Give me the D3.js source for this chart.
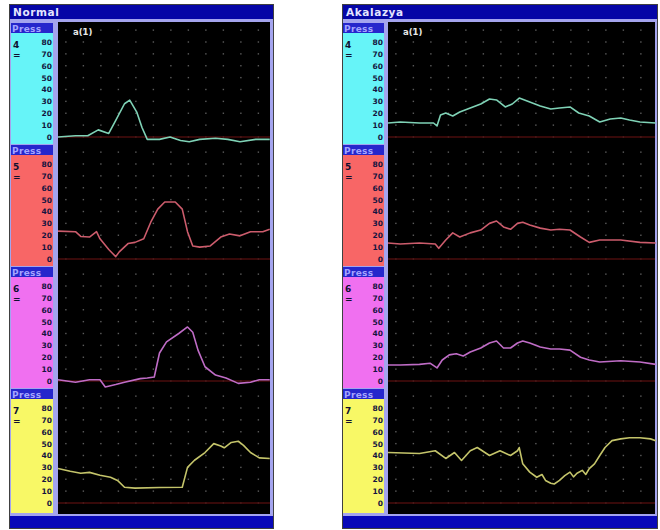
<!DOCTYPE html>
<html>
<head>
<meta charset="utf-8">
<script src="https://cdn.jsdelivr.net/npm/d3@7"></script>
<style>
  body { margin: 0; background: #ffffff; }
  svg { display: block; }
  text { font-family: "DejaVu Sans", sans-serif; font-weight: bold; }
</style>
</head>
<body>
<svg id="chart" width="660" height="530"></svg>
<script>
// channel names and pressure ticks (mmHg)
const channels = ["4", "5", "6", "7"];
const pressureTicks = [0, 10, 20, 30, 40, 50, 60, 70, 80];
const panelTitles = ["Normal", "Akalazya"];

// traces: [time (s), pressure (mmHg)]
const normalCh4 = [[0,0],[1,1],[1.7,1],[2.3,6],[2.9,3],[3.3,14],[3.8,28],[4.1,31],[4.5,21],[4.8,8],[5.1,-2],[5.8,-2],[6.4,0],[7,-3],[7.5,-4],[8.1,-2],[9,-1],[9.7,-2],[10.4,-4],[11.3,-2],[12.1,-2]];
const normalCh5 = [[0,23.5],[1,23],[1.3,19],[1.8,18.5],[2.2,23],[2.4,17],[2.9,8],[3.3,2],[3.5,6],[4,13],[4.4,14],[4.9,17],[5.3,31],[5.7,42],[6.1,48],[6.7,48],[7.1,42],[7.4,23],[7.7,11],[8.1,10],[8.7,11],[9.3,18.5],[9.8,21],[10.4,19.5],[11,23],[11.7,23],[12.1,25]];
const normalCh6 = [[0,1],[1,-1],[1.8,1],[2.4,1],[2.7,-5],[3.3,-3],[3.8,-1],[4.7,2],[5.1,2.5],[5.5,3.4],[5.8,23.6],[6.2,33],[6.9,40],[7.4,45.5],[7.7,41],[8,26],[8.4,12],[9,5],[9.6,2.5],[10.3,-2],[11,-1],[11.5,1],[12.1,1]];
const normalCh7 = [[0,29],[0.7,26.7],[1.3,25],[1.8,25.8],[2.4,23.3],[3,21.7],[3.4,19],[3.8,13.3],[4.4,12.5],[5.8,13],[7.1,13.3],[7.4,30],[7.8,36],[8.4,42.5],[8.9,50],[9.3,48],[9.5,46.5],[9.9,51],[10.3,52],[10.6,48.5],[11,42.5],[11.5,38],[12.1,37.5]];

const akalazyaCh4 = [[0,11.8],[0.7,12.6],[1.8,11.8],[2.6,11.8],[2.8,9.3],[3,18.5],[3.3,20.2],[3.7,17.7],[4.1,21],[4.7,24.4],[5.3,27.8],[5.8,32],[6.2,31.2],[6.7,25.3],[7.1,27.8],[7.5,32.8],[8.1,29.5],[8.7,26.1],[9.3,23.6],[9.8,24.4],[10.4,25.3],[10.9,20.2],[11.5,17.7],[12.1,12.6],[12.7,15.2],[13.3,16],[13.8,14.3],[14.4,12.6],[15.3,11.8]];
const akalazyaCh5 = [[0,13.5],[0.7,12.6],[1.8,13.5],[2.7,12.6],[2.9,9],[3.3,16],[3.7,22],[4.1,18.5],[4.7,22],[5.3,24.4],[5.8,30],[6.2,32],[6.6,27],[7,25],[7.4,30],[7.7,31],[8.1,28.6],[8.7,26],[9.3,24.4],[9.8,25],[10.4,24.4],[11,18.5],[11.5,14],[12.1,16],[13.3,16],[14.4,14],[15.3,13.5]];
const akalazyaCh6 = [[0,13.5],[0.7,13.5],[1.8,14],[2.4,15],[2.8,11],[3.1,17.7],[3.5,22],[3.9,23],[4.3,21],[4.7,24.4],[5.3,27.8],[5.8,32],[6.2,33.7],[6.6,27.8],[7,27.8],[7.4,32],[7.7,33.7],[8.1,32],[8.7,28.6],[9.3,27],[9.8,27],[10.4,26],[11,20],[11.5,17.7],[12.1,16],[13.3,17],[14.4,16],[15.3,14]];
const akalazyaCh7 = [[0,42.5],[1.8,41.7],[2.7,44],[3.3,37.5],[3.8,42.5],[4.2,35.8],[4.7,44],[5.1,46.7],[5.8,40],[6.4,44],[7,40],[7.4,44],[7.5,46.7],[7.7,33],[8.1,26],[8.5,21.7],[8.8,24],[9,19],[9.3,16.7],[9.5,16],[9.8,19],[10.1,23],[10.4,26],[10.6,22],[10.8,25],[11.1,27.5],[11.3,24],[11.5,29],[11.8,33],[12.1,40],[12.4,46.7],[12.8,52.5],[13.3,54],[13.8,55],[14.4,55],[15,54],[15.3,52.5]];

const normalTraces = [normalCh4, normalCh5, normalCh6, normalCh7];
const akalazyaTraces = [akalazyaCh4, akalazyaCh5, akalazyaCh6, akalazyaCh7];

// look
const labelFills = ["#66f4f8", "#f86666", "#f070f0", "#f8f866"];
const traceColors = ["#7fd2b6", "#cc5c6c", "#bf6cc6", "#c4c46a"];

const svg = d3.select("#chart");
const plotTop = 22, sectionH = 122, plotBottom = 514;

function drawPanel(title, traces, box) {
  const g = svg.append("g");

  // outer frame and lavender body
  g.append("rect").attr("x", box.x0 + 0.5).attr("y", 4.5)
    .attr("width", box.x1 - box.x0).attr("height", 524)
    .attr("fill", "#a4a4ee").attr("stroke", "#404040");

  // title bar
  g.append("rect").attr("x", box.x0 + 1).attr("y", 5)
    .attr("width", box.x1 - box.x0 - 1).attr("height", 14).attr("fill", "#0606a6");
  g.append("text").attr("x", box.x0 + 4).attr("y", 16)
    .attr("font-size", 10.5).attr("fill", "#e4e4ff").attr("letter-spacing", 0.6)
    .text(title);

  // bottom bar
  g.append("rect").attr("x", box.x0 + 1).attr("y", 516)
    .attr("width", box.x1 - box.x0 - 1).attr("height", 12).attr("fill", "#0808b8");

  // plot area
  const x = d3.scaleLinear()
    .domain([0, (box.p1 - box.p0) / 17.5])
    .range([box.p0, box.p1]);

  g.append("rect").attr("x", box.p0).attr("y", plotTop)
    .attr("width", box.p1 - box.p0).attr("height", plotBottom - plotTop)
    .attr("fill", "#000000");

  const gridCols = d3.range(0.45, x.domain()[1], 1);

  traces.forEach((trace, i) => {
    const sTop = plotTop + i * sectionH;
    const y = d3.scaleLinear().domain([0, 80]).range([sTop + 115, sTop + 20]);
    const sBottom = i === 3 ? 513 : sTop + sectionH;

    // label column
    g.append("rect").attr("x", box.c0).attr("y", sTop + 1)
      .attr("width", box.c1 - box.c0).attr("height", sBottom - sTop - 1)
      .attr("fill", labelFills[i]);
    g.append("rect").attr("x", box.c0).attr("y", sTop + 1)
      .attr("width", box.c1 - box.c0).attr("height", 10)
      .attr("fill", "#2626cc");
    g.append("text").attr("x", box.c0 + 1).attr("y", sTop + 9.5)
      .attr("font-size", 9).attr("fill", "#a4a4ff").attr("letter-spacing", 0.3)
      .text("Press");
    g.append("text").attr("x", box.c0 + 2).attr("y", sTop + 26)
      .attr("font-size", 9).attr("fill", "#101030")
      .text(channels[i]);
    g.append("text").attr("x", box.c0 + 2).attr("y", sTop + 36)
      .attr("font-size", 9).attr("fill", "#101030")
      .text("=");

    // pressure axis labels
    const axis = d3.axisLeft(y).tickValues(pressureTicks).tickSize(0).tickPadding(0);
    const ax = g.append("g").attr("transform", `translate(${box.c1 - 1},0)`).call(axis);
    ax.select(".domain").remove();
    ax.selectAll("text").attr("font-size", 7.5).attr("fill", "#141440")
      .attr("font-family", "DejaVu Sans").attr("font-weight", "bold");

    // dotted grid
    const rows = d3.range(0, 100, 10);
    const dots = [];
    rows.forEach(r => gridCols.forEach(c => dots.push([c, r])));
    g.append("g").selectAll("rect").data(dots).join("rect")
      .attr("x", d => x(d[0]) - 0.7).attr("y", d => y(d[1]) - 0.7)
      .attr("width", 1.4).attr("height", 1.4).attr("fill", "#5c5c5c");

    // zero line
    g.append("line").attr("x1", box.p0).attr("x2", box.p1)
      .attr("y1", y(0)).attr("y2", y(0))
      .attr("stroke", "#4a0c0c").attr("stroke-width", 1.5);

    // trace
    const line = d3.line().x(d => x(d[0])).y(d => y(d[1])).curve(d3.curveLinear);
    g.append("path").datum(trace).attr("d", line)
      .attr("fill", "none").attr("stroke", traceColors[i])
      .attr("stroke-width", 1.6).attr("stroke-linejoin", "round");
  });

  g.append("text").attr("x", box.p0 + 15).attr("y", 35)
    .attr("font-size", 8.5).attr("fill", "#e8e8e8").text("a(1)");
}

drawPanel(panelTitles[0], normalTraces, { x0: 9, x1: 273, c0: 11, c1: 53, p0: 58, p1: 270 });
drawPanel(panelTitles[1], akalazyaTraces, { x0: 342, x1: 657, c0: 343, c1: 384, p0: 388, p1: 655 });
</script>
</body>
</html>
